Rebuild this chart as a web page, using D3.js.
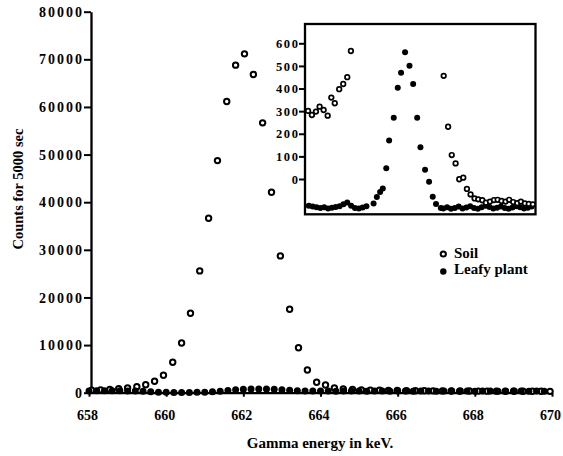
<!DOCTYPE html>
<html>
<head>
<meta charset="utf-8">
<style>
    html, body {
        margin: 0;
        padding: 0;
        background: #fff;
    }

    svg {
        display: block;
    }

    text {
        font-family: "Liberation Serif", "Times New Roman", serif;
        font-weight: bold;
        fill: #000;
    }
</style>
</head>
<body>
<div id="chart"></div>
<script src="https://cdnjs.cloudflare.com/ajax/libs/d3/7.8.5/d3.min.js"></script>
<script>
    "use strict";

    const WIDTH = 563;
    const HEIGHT = 456;

    // main plot, counts for 5000 sec
    const soilEnergy = [658.07, 658.30, 658.54, 658.77, 659.00, 659.24, 659.47, 659.70, 659.93, 660.17,
        660.40, 660.63, 660.87, 661.10, 661.33, 661.57, 661.80, 662.03, 662.26, 662.50,
        662.73, 662.96, 663.20, 663.43, 663.66, 663.90, 664.13, 664.36, 664.59, 664.83,
        665.06, 665.29, 665.53, 665.76, 665.99, 666.23, 666.46, 666.69, 666.92, 667.16,
        667.39, 667.62, 667.86, 668.09, 668.32, 668.56, 668.79, 669.02, 669.25, 669.49,
        669.72, 669.95];
    const soilCounts = [500, 600, 700, 850, 1000, 1260, 1680, 2400, 3660, 6390,
        10440, 16680, 25570, 36640, 48740, 61130, 68780, 71150, 66810, 56660,
        42100, 28720, 17520, 9450, 4770, 2180, 1620, 1000, 800, 700,
        600, 550, 500, 480, 450, 430, 420, 400, 390, 380,
        370, 360, 350, 340, 330, 330, 320, 310, 300, 300,
        290, 280];

    const leafyEnergy = [658.0, 658.2, 658.4, 658.6, 658.8, 659.0, 659.2, 659.4, 659.6, 659.8,
        660.0, 660.2, 660.4, 660.6, 660.8, 661.0, 661.2, 661.4, 661.6, 661.8,
        662.0, 662.2, 662.4, 662.6, 662.8, 663.0, 663.2, 663.4, 663.6, 663.8,
        664.0, 664.2, 664.4, 664.6, 664.8, 665.0, 665.2, 665.4, 665.6, 665.8,
        666.0, 666.2, 666.4, 666.6, 666.8, 667.0, 667.2, 667.4, 667.6, 667.8,
        668.0, 668.2, 668.4, 668.6, 668.8, 669.0, 669.2, 669.4, 669.6, 669.8];
    const leafyCounts = [380, 420, 400, 430, 400, 380, 360, 300, 200, 120,
        80, 60, 50, 60, 80, 120, 200, 300, 450, 600,
        700, 780, 800, 760, 700, 600, 500, 420, 380, 350,
        340, 360, 330, 350, 370, 340, 320, 350, 360, 330,
        340, 350, 320, 340, 360, 330, 350, 340, 320, 350,
        330, 340, 360, 330, 320, 340, 350, 330, 340, 320];

    // inset, values as labelled on its own axis
    const insetSoilEnergy = [658.16, 658.36, 658.57, 658.76, 658.97, 659.18, 659.37, 659.55, 659.78, 659.99,
        660.20, 660.39,
        665.22, 665.45, 665.64, 665.84, 666.03, 666.24, 666.43, 666.62, 666.83, 667.02,
        667.23, 667.42, 667.63, 667.84, 668.03, 668.23, 668.44, 668.63, 668.84, 669.05,
        669.24, 669.45, 669.65, 669.86];
    const insetSoilCounts = [301, 283, 298, 320, 305, 280, 360, 335, 397, 420,
        450, 566,
        456, 231, 106, 69, -1, 6, -44, -68, -86, -90,
        -94, -105, -100, -93, -92, -97, -100, -92, -102, -107,
        -100, -108, -110, -112];

    const insetLeafyEnergy = [658.2, 658.4, 658.6, 658.8, 659.0, 659.2, 659.4, 659.6, 659.8, 660.0,
        660.2, 660.4, 660.6, 660.8, 661.0, 661.2, 661.57, 661.74, 661.91, 662.05,
        662.23, 662.38, 662.62, 662.83, 663.00, 663.21, 663.44, 663.63, 663.84, 664.01,
        664.25, 664.46, 664.65, 664.82, 665.07, 665.2, 665.4, 665.6, 665.8, 666.0,
        666.2, 666.4, 666.6, 666.8, 667.0, 667.2, 667.4, 667.6, 667.8, 668.0,
        668.2, 668.4, 668.6, 668.8, 669.0, 669.2, 669.4, 669.6, 669.8];
    const insetLeafyCounts = [-118, -122, -125, -128, -125, -130, -127, -124, -120, -112,
        -104, -118, -128, -130, -126, -120, -108, -80, -57, -42,
        47, 170, 271, 404, 470, 560, 501, 420, 271, 140,
        41, -12, -78, -111, -128, -130, -125, -132, -128, -122,
        -130, -126, -120, -128, -132, -125, -118, -124, -130, -127,
        -122, -128, -131, -126, -120, -125, -130, -127, -122];

    const xTicks = [658, 660, 662, 664, 666, 668, 670];
    const yTicks = [0, 10000, 20000, 30000, 40000, 50000, 60000, 70000, 80000];
    const insetTicks = [0, 100, 200, 300, 400, 500, 600];

    const legendLabels = ["Soil", "Leafy plant"];

    function zip(xs, ys) {
        return xs.map(function (x, i) {
            return {x: x, y: ys[i]};
        });
    }

    const svg = d3.select("#chart").append("svg")
        .attr("width", WIDTH)
        .attr("height", HEIGHT);

    const x = d3.scaleLinear().domain([658, 670]).range([89, 552]);
    const y = d3.scaleLinear().domain([0, 80000]).range([392.7, 11.7]);

    // axes
    const yAxis = svg.append("g")
        .attr("transform", "translate(91,0)")
        .call(d3.axisLeft(y).tickValues(yTicks).tickFormat(d3.format("d"))
            .tickSize(7).tickSizeOuter(0).tickPadding(1));
    yAxis.select(".domain").attr("stroke-width", 2.3);
    yAxis.selectAll(".tick line").attr("stroke-width", 2);
    yAxis.selectAll(".tick text")
        .attr("font-size", 14)
        .attr("letter-spacing", "2px")
        .attr("x", -7)
        .attr("dy", "0.33em")
        .style("font-family", "'Liberation Serif', serif");

    const xAxis = svg.append("g")
        .attr("transform", "translate(0,392.7)")
        .call(d3.axisBottom(x).tickValues(xTicks).tickFormat(d3.format("d"))
            .tickSize(4).tickSizeOuter(0));
    xAxis.select(".domain").attr("stroke-width", 2.3);
    xAxis.selectAll(".tick line").attr("stroke-width", 2);
    xAxis.selectAll(".tick text")
        .attr("font-size", 14)
        .attr("y", 27.3)
        .attr("dy", 0)
        .attr("dx", -2)
        .style("font-family", "'Liberation Serif', serif");

    // main points: soil rings first, leafy dots over them on the baseline
    svg.append("g").selectAll("circle")
        .data(zip(soilEnergy, soilCounts))
        .enter().append("circle")
        .attr("cx", d => x(d.x))
        .attr("cy", d => y(d.y))
        .attr("r", 2.7)
        .attr("fill", "#fff")
        .attr("stroke", "#000")
        .attr("stroke-width", 2);

    svg.append("g").selectAll("circle")
        .data(zip(leafyEnergy, leafyCounts))
        .enter().append("circle")
        .attr("cx", d => x(d.x))
        .attr("cy", d => y(d.y))
        .attr("r", 3.5)
        .attr("fill", "#000");

    svg.append("text")
        .attr("x", 320)
        .attr("y", 447.5)
        .attr("text-anchor", "middle")
        .attr("font-size", 15)
        .text("Gamma energy in keV.");

    svg.append("text")
        .attr("transform", "translate(22.5,189) rotate(-90)")
        .attr("text-anchor", "middle")
        .attr("font-size", 14.5)
        .text("Counts for 5000 sec");

    // inset
    const xIn = d3.scaleLinear().domain([658, 670]).range([305, 535.5]);
    const yIn = d3.scaleLinear().domain([0, 600]).range([179, 43.3]);

    svg.append("defs").append("clipPath").attr("id", "inset-clip")
        .append("rect")
        .attr("x", 305).attr("y", 24).attr("width", 230.5).attr("height", 190.3);

    svg.append("rect")
        .attr("x", 305).attr("y", 24)
        .attr("width", 230.5).attr("height", 190.3)
        .attr("fill", "#fff")
        .attr("stroke", "#000")
        .attr("stroke-width", 2.3);

    const inset = svg.append("g").attr("clip-path", "url(#inset-clip)");

    inset.append("g").selectAll("circle")
        .data(zip(insetLeafyEnergy, insetLeafyCounts))
        .enter().append("circle")
        .attr("cx", d => xIn(d.x))
        .attr("cy", d => yIn(d.y))
        .attr("r", 3)
        .attr("fill", "#000");

    inset.append("g").selectAll("circle")
        .data(zip(insetSoilEnergy, insetSoilCounts))
        .enter().append("circle")
        .attr("cx", d => xIn(d.x))
        .attr("cy", d => yIn(d.y))
        .attr("r", 2.3)
        .attr("fill", "#fff")
        .attr("stroke", "#000")
        .attr("stroke-width", 1.7);

    const inAxis = svg.append("g")
        .attr("transform", "translate(304,0)")
        .call(d3.axisLeft(yIn).tickValues(insetTicks).tickFormat(d3.format("d"))
            .tickSize(5).tickSizeOuter(0).tickPadding(0));
    inAxis.select(".domain").remove();
    inAxis.selectAll(".tick line").attr("stroke-width", 2);
    inAxis.selectAll(".tick text")
        .attr("font-size", 12.5)
        .attr("letter-spacing", "1.6px")
        .attr("x", -4.5)
        .attr("dy", "0.33em")
        .style("font-family", "'Liberation Serif', serif");

    // legend
    const legend = svg.append("g");
    legend.append("circle")
        .attr("cx", 443.3).attr("cy", 254)
        .attr("r", 2.6)
        .attr("fill", "#fff").attr("stroke", "#000").attr("stroke-width", 2);
    legend.append("circle")
        .attr("cx", 443.3).attr("cy", 271.5)
        .attr("r", 3.2)
        .attr("fill", "#000");
    legend.selectAll("text")
        .data(legendLabels)
        .enter().append("text")
        .attr("x", 454)
        .attr("y", (d, i) => 257.5 + i * 16.5)
        .attr("font-size", 15)
        .text(d => d);
</script>
</body>
</html>
